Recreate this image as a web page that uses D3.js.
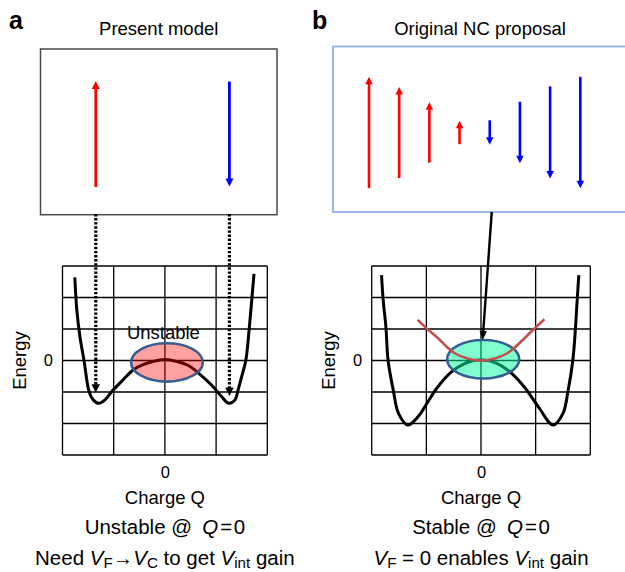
<!DOCTYPE html>
<html><head><meta charset="utf-8">
<script src="https://cdn.jsdelivr.net/npm/d3@7"></script>
<style>
body{margin:0;background:#fff}
svg{display:block}
text{font-family:"Liberation Sans",Arial,Helvetica,sans-serif;fill:#000}
</style>
</head><body>
<svg id="c" width="625" height="572"></svg>
<script>
// ---------------- data ----------------
const panelLabels = ["a", "b"];
const panelTitles = ["Present model", "Original NC proposal"];
const axisTitleY = "Energy";
const axisTitleX = "Charge Q";
const energyTicks = [0];
const chargeTicks = [0];
const gridQ = [-2, -1, 0, 1, 2];
const gridE = [-3, -2, -1, 0, 1, 2, 3];

// panel a: double-well energy landscape
const presentQ = [-1.76, -1.72, -1.66, -1.58, -1.48, -1.40, -1.29, -1.17, -1.04, -0.85, -0.62, -0.45, -0.25, 0, 0.25, 0.45, 0.65, 0.91, 1.11, 1.25, 1.37, 1.42, 1.50, 1.58, 1.65, 1.74];
const presentE = [2.64, 1.60, 0.76, 0, -0.99, -1.25, -1.36, -1.25, -0.99, -0.67, -0.30, -0.15, -0.04, 0.03, -0.04, -0.15, -0.39, -0.78, -1.15, -1.36, -1.25, -0.99, -0.51, 0, 1.07, 2.75];

// panel b: deeper double well
const ncQ = [-1.82, -1.79, -1.74, -1.70, -1.60, -1.51, -1.34, -1.15, -0.99, -0.81, -0.54, -0.29, 0, 0.29, 0.56, 0.81, 1.05, 1.32, 1.50, 1.59, 1.68, 1.73, 1.76, 1.79];
const ncE = [2.71, 1.92, 1.07, 0, -0.99, -1.68, -2.05, -1.78, -1.36, -0.88, -0.36, -0.09, 0.02, -0.09, -0.41, -0.88, -1.47, -2.05, -1.68, -0.99, 0, 1.07, 1.92, 2.71];

// panel b: stabilised parabola
const parabolaQ = [-1.16, -0.95, -0.78, -0.62, -0.48, -0.25, 0, 0.25, 0.48, 0.62, 0.78, 0.95, 1.16];
const parabolaE = [1.29, 0.95, 0.70, 0.42, 0.23, 0.06, 0, 0.06, 0.23, 0.42, 0.68, 0.97, 1.31];

// dipoles (polarisation, +up / -down)
const presentDipoles = [1, -0.99];
const presentStateQ = [-1.35, 1.26];
const presentArrowTipE = [-1.02, -1.13];
const ncDipoles = [1.05, 0.86, 0.57, 0.22, -0.23, -0.58, -0.87, -1.05];

// highlighted regions (Q range, E range)
const regionQ = [[-0.66, 0.74], [-0.62, 0.70]];
const regionE = [[-0.67, 0.55], [-0.57, 0.65]];
const regionLabel = "Unstable";

// ---------------- drawing ----------------
const svg = d3.select("#c");
const FONT = 18.5;
const CAP = 20.5;

const xA = d3.scaleLinear().domain([-2, 2]).range([62.5, 267.3]);
const xB = d3.scaleLinear().domain([-2, 2]).range([371.7, 590.3]);
const yE = d3.scaleLinear().domain([-3, 3]).range([455, 266]);
const pScale = d3.scaleLinear().domain([-1, 1]).range([-53, 53]);

function drawArrow(g, x1, y1, x2, y2, o) {
  const dx = x2 - x1, dy = y2 - y1, L = Math.hypot(dx, dy);
  const ux = dx / L, uy = dy / L, nx = -uy, ny = ux;
  const bx = x2 - ux * o.headL, by = y2 - uy * o.headL;
  const ln = g.append("line")
    .attr("x1", x1).attr("y1", y1)
    .attr("x2", bx + ux * 1).attr("y2", by + uy * 1)
    .attr("stroke", o.color).attr("stroke-width", o.width);
  if (o.dash) ln.attr("stroke-dasharray", o.dash);
  g.append("path")
    .attr("d", `M${x2},${y2}L${bx + nx * o.headW / 2},${by + ny * o.headW / 2}L${bx - nx * o.headW / 2},${by - ny * o.headW / 2}Z`)
    .attr("fill", o.color);
}

function richText(g, x, y, segs, size) {
  const t = g.append("text").attr("x", x).attr("y", y)
    .attr("text-anchor", "middle").attr("font-size", size);
  let prevSub = false;
  segs.forEach(s => {
    const ts = t.append("tspan").text(s.t);
    if (s.i) ts.attr("font-style", "italic");
    if (s.sub) ts.attr("font-size", size * 0.74);
    if (s.dx) ts.attr("dx", s.dx);
    if (s.sub && !prevSub) ts.attr("dy", 3.5);
    if (!s.sub && prevSub) ts.attr("dy", -3.5);
    prevSub = !!s.sub;
  });
  return t;
}

function drawGrid(g, x) {
  g.selectAll(".gx").data(gridQ).join("line")
    .attr("x1", d => x(d)).attr("x2", d => x(d))
    .attr("y1", yE(3)).attr("y2", yE(-3))
    .attr("stroke", "#000").attr("stroke-width", 1.3);
  g.selectAll(".gy").data(gridE).join("line").attr("class", "gy")
    .attr("x1", x(-2)).attr("x2", x(2))
    .attr("y1", d => yE(d)).attr("y2", d => yE(d))
    .attr("stroke", "#000").attr("stroke-width", 1.3);
}

function drawAxes(g, x, ex) {
  const ay = g.append("g").attr("transform", `translate(${x(-2)},0)`)
    .call(d3.axisLeft(yE).tickValues(energyTicks).tickSize(0).tickPadding(9.5).tickFormat(d3.format("d")));
  ay.select(".domain").remove();
  ay.selectAll("text").attr("font-size", 16.5).attr("font-family", null);
  const ax = g.append("g").attr("transform", `translate(0,${yE(-3)})`)
    .call(d3.axisBottom(x).tickValues(chargeTicks).tickSize(0).tickPadding(11.5).tickFormat(d3.format("d")));
  ax.select(".domain").remove();
  ax.selectAll("text").attr("font-size", 16.5).attr("font-family", null);
  g.append("text").attr("transform", `translate(${ex},${yE(0)}) rotate(-90)`)
    .attr("text-anchor", "middle").attr("font-size", FONT).text(axisTitleY);
  g.append("text").attr("x", x(0)).attr("y", 503.5)
    .attr("text-anchor", "middle").attr("font-size", FONT).text(axisTitleX);
}

const lineGen = (x) => d3.line().x(d => x(d[0])).y(d => yE(d[1])).curve(d3.curveCatmullRom.alpha(0.5));

function drawRegion(g, x, i, fill) {
  const q = regionQ[i], e = regionE[i];
  g.append("ellipse")
    .attr("cx", (x(q[0]) + x(q[1])) / 2).attr("cy", (yE(e[0]) + yE(e[1])) / 2)
    .attr("rx", (x(q[1]) - x(q[0])) / 2).attr("ry", (yE(e[0]) - yE(e[1])) / 2)
    .attr("fill", fill).attr("stroke", "#3a5d8f").attr("stroke-width", 2.6);
}

// ---- panel labels & titles
svg.append("text").attr("x", 9).attr("y", 29).attr("font-size", 25).attr("font-weight", "bold").text(panelLabels[0]);
svg.append("text").attr("x", 312).attr("y", 29).attr("font-size", 25).attr("font-weight", "bold").text(panelLabels[1]);
svg.append("text").attr("x", 158.7).attr("y", 35.3).attr("text-anchor", "middle").attr("font-size", FONT).text(panelTitles[0]);
svg.append("text").attr("x", 480).attr("y", 35).attr("text-anchor", "middle").attr("font-size", FONT).text(panelTitles[1]);

// ---- panel a
const gA = svg.append("g");
gA.append("rect").attr("x", 40.5).attr("y", 49).attr("width", 236.5).attr("height", 165.7)
  .attr("fill", "none").attr("stroke", "#4a4a4a").attr("stroke-width", 1.5);
presentDipoles.forEach((v, i) => {
  const cx = xA(presentStateQ[i]), cy = 134;
  drawArrow(gA, cx, cy + pScale(v), cx, cy - pScale(v), {color: v > 0 ? "#ff0000" : "#0000ff", width: 2.8, headW: 8, headL: 8});
});
drawGrid(gA, xA);
gA.append("path").datum(d3.zip(presentQ, presentE)).attr("d", lineGen(xA))
  .attr("fill", "none").attr("stroke", "#000").attr("stroke-width", 3);
drawRegion(gA, xA, 0, "rgba(255,0,0,0.37)");
presentStateQ.forEach((q, i) => {
  drawArrow(gA, xA(q), 214, xA(q), yE(presentArrowTipE[i]), {color: "#000", width: 3.2, headW: 8.5, headL: 8.5, dash: "2.4,1.7"});
});
gA.append("text").attr("x", xA(0) - 1.5).attr("y", 339).attr("text-anchor", "middle").attr("font-size", FONT).text(regionLabel);
drawAxes(gA, xA, 25.5);
richText(gA, xA(0), 533.5, [{t: "Unstable @\u2002"}, {t: "Q", i: true}, {t: "=", dx: 2}, {t: "0", dx: 1.5}], CAP);
richText(gA, xA(0), 564.5, [{t: "Need "}, {t: "V", i: true}, {t: "F", sub: true}, {t: "\u2192"}, {t: "V", i: true}, {t: "C", sub: true}, {t: " to get "}, {t: "V", i: true}, {t: "int", sub: true}, {t: " gain"}], CAP);

// ---- panel b
const gB = svg.append("g");
gB.append("rect").attr("x", 333).attr("y", 46.5).attr("width", 320).attr("height", 165.5)
  .attr("fill", "none").attr("stroke", "#8db3e2").attr("stroke-width", 1.8);
const site = d3.scalePoint().domain(d3.range(ncDipoles.length)).range([369, 580.3]);
ncDipoles.forEach((v, i) => {
  const cx = site(i), cy = 132.5;
  drawArrow(gB, cx, cy + pScale(v), cx, cy - pScale(v), {color: v > 0 ? "#ff0000" : "#0000ff", width: 2.6, headW: 7.5, headL: 7.5});
});
drawGrid(gB, xB);
gB.append("path").datum(d3.zip(ncQ, ncE)).attr("d", lineGen(xB))
  .attr("fill", "none").attr("stroke", "#000").attr("stroke-width", 3);
drawRegion(gB, xB, 1, "rgba(0,255,160,0.5)");
gB.append("path").datum(d3.zip(parabolaQ, parabolaE)).attr("d", lineGen(xB))
  .attr("fill", "none").attr("stroke", "#c0504d").attr("stroke-width", 2.6);
drawArrow(gB, site(4) + 2, 212, xB(0.03), yE(regionE[1][1]), {color: "#000", width: 2.4, headW: 7.5, headL: 9});
drawAxes(gB, xB, 334.5);
richText(gB, xB(0), 533.5, [{t: "Stable @\u2002"}, {t: "Q", i: true}, {t: "=", dx: 2}, {t: "0", dx: 1.5}], CAP);
richText(gB, xB(0), 564.5, [{t: "V", i: true}, {t: "F", sub: true}, {t: " = 0 enables "}, {t: "V", i: true}, {t: "int", sub: true}, {t: " gain"}], CAP);
</script>
</body></html>
